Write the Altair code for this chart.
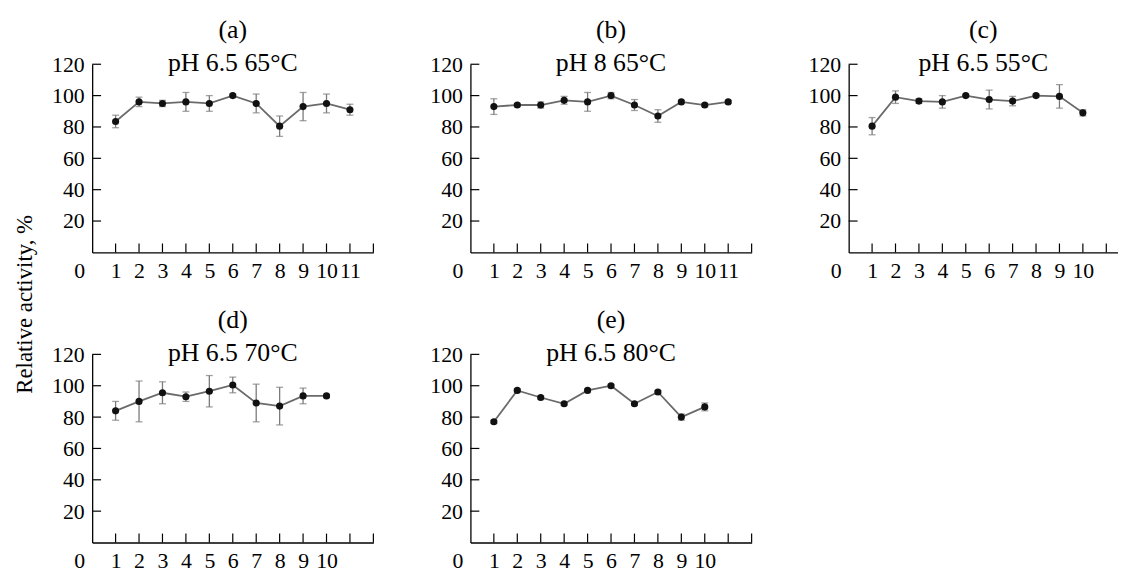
import altair as alt
import pandas as pd

FONT = "'Liberation Serif', 'Times New Roman', 'DejaVu Serif', serif"

panel_ids = ["(a)", "(b)", "(c)", "(d)", "(e)"]
conditions = ["pH 6.5 65°C", "pH 8 65°C", "pH 6.5 55°C", "pH 6.5 70°C", "pH 6.5 80°C"]

act_a = [83.5, 96, 95, 96, 95, 100, 95, 80.5, 93, 95, 91]
err_a = [4, 3, 2, 6, 5, 1, 6, 6.5, 9, 6, 3.5]
act_b = [93, 94, 94, 97, 96, 100, 94, 87, 96, 94, 96]
err_b = [5, 1, 2, 2.5, 6, 2, 3.5, 4, 1, 1, 1]
act_c = [80.5, 99, 96.5, 96, 100, 97.5, 96.5, 100, 99.5, 89]
err_c = [5.5, 4, 1.5, 4, 1, 6, 3, 1, 7.5, 2]
act_d = [84, 90, 95.5, 93, 96.5, 100.5, 89, 87, 93.5, 93.5]
err_d = [6, 13, 7, 3, 10, 5, 12, 12, 5, 1]
act_e = [77, 97, 92.5, 88.5, 97, 100, 88.5, 96, 80, 86.5]
err_e = [1, 1, 1, 1, 1, 1, 1, 1, 2, 2.5]

y_ticks = [20, 40, 60, 80, 100, 120]
x_ticks_full = list(range(1, 13))
x_ticks_c = list(range(1, 12))

H = 190
TICK = 9


def panel(pid, cond, act, err, xmax, width, xticks):
    n = len(act)
    df = pd.DataFrame({
        "n": list(range(1, n + 1)),
        "act": act,
        "lo": [a - e for a, e in zip(act, err)],
        "hi": [a + e for a, e in zip(act, err)],
    })
    xs = alt.Scale(domain=[0, xmax], nice=False, zero=False)
    ys = alt.Scale(domain=[0, 120], nice=False)
    xax = alt.Axis(values=list(range(1, n + 1)), ticks=False, grid=False, title=None,
                   labelOverlap=False, labelFlush=False, format="d")
    yax = alt.Axis(values=y_ticks, ticks=False, grid=False, title=None,
                   labelOverlap=False, labelFlush=False, format="d")
    base = alt.Chart(df)
    line = base.mark_line(color="#6a6a6a", strokeWidth=1.8).encode(
        x=alt.X("n:Q", scale=xs, axis=xax), y=alt.Y("act:Q", scale=ys, axis=yax))
    bars = base.mark_rule(color="#7a7a7a", strokeWidth=1.3).encode(
        x=alt.X("n:Q", axis=xax), y=alt.Y("lo:Q", axis=yax), y2="hi:Q")
    cap_lo = base.mark_tick(orient="horizontal", color="#7a7a7a", size=7, thickness=1.3).encode(
        x=alt.X("n:Q", axis=xax), y=alt.Y("lo:Q", axis=yax))
    cap_hi = base.mark_tick(orient="horizontal", color="#7a7a7a", size=7, thickness=1.3).encode(
        x=alt.X("n:Q", axis=xax), y=alt.Y("hi:Q", axis=yax))
    pts = base.mark_circle(size=52, color="#111111", opacity=1).encode(
        x=alt.X("n:Q", axis=xax), y=alt.Y("act:Q", axis=yax))
    xt = alt.Chart(pd.DataFrame({"t": xticks})).mark_rule(color="black", strokeWidth=1.2).encode(
        x=alt.X("t:Q", axis=xax), y=alt.value(H), y2=alt.value(H - TICK))
    yt = alt.Chart(pd.DataFrame({"t": y_ticks})).mark_rule(color="black", strokeWidth=1.2).encode(
        y=alt.Y("t:Q", axis=yax), x=alt.value(0), x2=alt.value(TICK))
    zero = alt.Chart(pd.DataFrame({"t": [0], "lab": ["0"]})).mark_text(
        align="right", baseline="top", dx=-7, dy=9, font=FONT, fontSize=22, color="black").encode(
        x=alt.X("t:Q", axis=xax), y=alt.Y("t:Q", axis=yax), text="lab:N")
    return alt.layer(line, bars, cap_lo, cap_hi, pts, xt, yt, zero).properties(
        width=width, height=H,
        title=alt.TitleParams(text=[pid, cond], font=FONT, fontSize=26, fontWeight="normal",
                              color="black", anchor="middle", offset=-23, lineHeight=34))


ca = panel(panel_ids[0], conditions[0], act_a, err_a, 12, 284, x_ticks_full)
cb = panel(panel_ids[1], conditions[1], act_b, err_b, 12, 284, x_ticks_full)
cc = panel(panel_ids[2], conditions[2], act_c, err_c, 11.5, 272, x_ticks_c)
cd = panel(panel_ids[3], conditions[3], act_d, err_d, 12, 284, x_ticks_full)
ce = panel(panel_ids[4], conditions[4], act_e, err_e, 12, 284, x_ticks_full)

chart = alt.concat(ca, cb, cc, cd, ce, columns=3, spacing={"row": 25, "column": 56}).properties(
    title=alt.TitleParams(text="Relative activity, %", orient="left", anchor="middle",
                          font=FONT, fontSize=23, fontWeight="normal", color="black", offset=15,
                          dx=-10),
    padding={"left": 5, "top": 6, "right": 0, "bottom": 0},
).configure_view(stroke=None).configure_axis(
    labelFont=FONT, labelFontSize=22, labelColor="black", labelPadding=8,
    labelOverlap=False, labelFlush=False, domainColor="black", domainWidth=1.3,
    ticks=False, grid=False,
)

chart.save("out.html", embed_options={"renderer": "svg", "actions": False})
